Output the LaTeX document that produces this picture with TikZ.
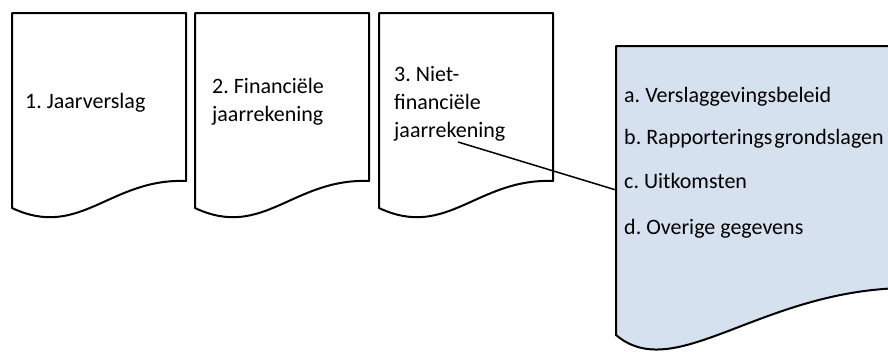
\documentclass[tikz,border=0pt]{standalone}
\usepackage{fontspec}
\setmainfont{Carlito}
\definecolor{docblue}{HTML}{D6E1EF}
\frenchspacing
\begin{document}
\begin{tikzpicture}[x=1pt,y=-1pt,
  docshape/.style={draw=black,line width=2pt,line join=round},
  lbl/.style={anchor=base west,inner sep=0pt,font=\fontsize{22}{28}\selectfont},
  docpic/.pic={\draw[docshape,fill=white] (0,0) -- (174,0) -- (174,168) .. controls (98,165) and (68,227) .. (0,195) -- cycle;}]
\useasboundingbox (0,0) rectangle (888,351);
\clip (0,0) rectangle (888,351);
\pic at (12,13) {docpic};
\pic at (195,13) {docpic};
\pic at (379,13) {docpic};
\draw[docshape,fill=docblue] (616,46) -- (905,46) -- (905,288) .. controls (760,290) and (675,385) .. (616,335) -- cycle;
\node[lbl] (t1) at (25,108) {1. Jaarverslag};
\node[lbl] (t2a) at (212,93) {2. Financiële};
\node[lbl] (t2b) at (212,121) {jaarrekening};
\node[lbl] (t3a) at (394,81) {3. Niet-};
\node[lbl] (t3b) at (394,109) {financiële};
\node[lbl] (t3c) at (394,137) {jaarrekening};
\node[lbl] (la) at (624,102) {a. Verslaggevingsbeleid};
\node[lbl] (lb) at (624,144) {b. Rapporterings\kern2pt grondslagen};
\node[lbl] (lc) at (624,188) {c. Uitkomsten};
\node[lbl] (ld) at (624,234) {d. Overige gegevens};
\coordinate (c3) at (458,142);
\coordinate (bl) at (616,190);
\draw[line width=1.5pt] (c3) -- (bl);
\end{tikzpicture}
\end{document}
